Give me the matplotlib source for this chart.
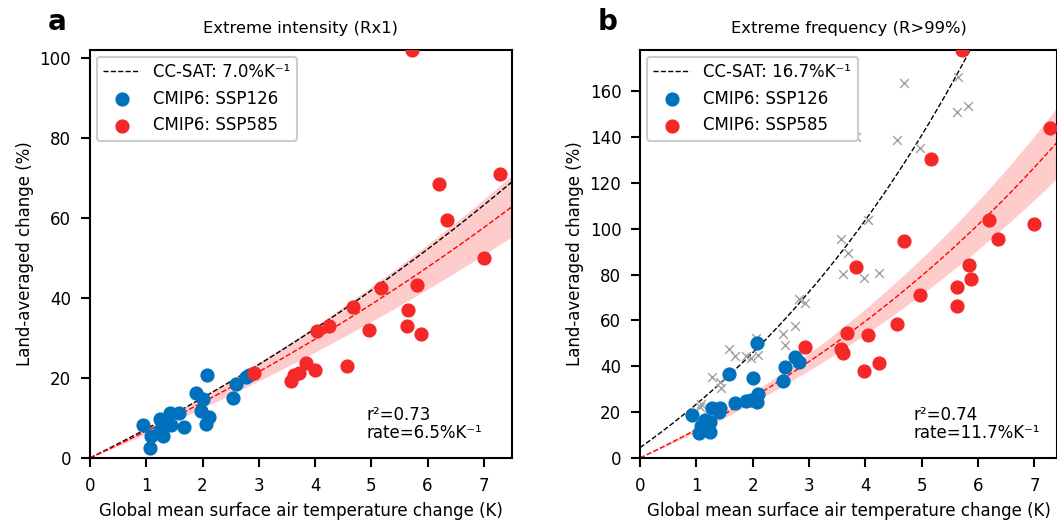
import numpy as np
import matplotlib.pyplot as plt
import matplotlib

matplotlib.rcParams.update({'font.size': 12, 'axes.linewidth': 1.5})

# ---- panel a : extreme intensity (Rx1) ----
a_t126 = [0.94, 1.06, 1.09, 1.25, 1.24, 1.29, 1.43, 1.44, 1.59, 1.68,
          1.89, 2.01, 1.97, 2.08, 2.11, 2.07, 2.54, 2.59, 2.77, 2.82]
a_y126 = [8.35, 2.5, 5.4, 9.7, 6.9, 5.4, 11.3, 8.2, 11.3, 7.75,
          16.3, 14.7, 11.7, 20.8, 10.3, 8.6, 15.0, 18.4, 20.3, 20.8]
a_t585 = [2.92, 3.58, 3.62, 3.71, 3.84, 4.00, 4.04, 4.24, 4.56, 4.68, 4.96,
          5.17, 5.63, 5.66, 5.82, 5.88, 5.73, 6.21, 6.35, 7.00, 7.28]
a_y585 = [21.3, 19.3, 20.7, 21.2, 23.8, 21.9, 31.8, 33.0, 23.0, 37.8, 32.1,
          42.5, 33.0, 36.9, 43.3, 30.9, 102.0, 68.6, 59.4, 50.0, 71.1]

# ---- panel b : extreme frequency (R>99%) ----
b_t126 = [0.93, 1.05, 1.08, 1.15, 1.24, 1.27, 1.24, 1.42, 1.41, 1.58, 1.68,
          1.88, 1.97, 2.00, 2.07, 2.09, 2.07, 2.53, 2.58, 2.75, 2.83]
b_y126 = [18.7, 10.8, 13.9, 16.6, 11.5, 21.7, 15.8, 21.7, 20.2, 36.5, 24.1,
          24.8, 25.3, 34.7, 50.3, 27.9, 24.5, 33.7, 39.5, 44.2, 42.0]
b_t585 = [2.93, 3.57, 3.61, 3.68, 3.83, 3.98, 4.04, 4.24, 4.56, 4.68, 4.96,
          5.16, 5.62, 5.63, 5.83, 5.87, 5.71, 6.20, 6.35, 7.00, 7.27]
b_y585 = [48.2, 47.4, 45.9, 54.6, 83.4, 37.9, 53.6, 41.3, 58.4, 94.7, 71.1,
          130.5, 74.7, 66.3, 84.1, 78.0, 177.9, 103.7, 95.6, 101.9, 144.0]
b_tx = [0.93, 1.06, 1.08, 1.23, 1.27, 1.42, 1.43, 1.58, 1.68, 1.88, 1.97,
        2.06, 2.09, 2.53, 2.58, 2.75, 2.83, 2.93, 3.57, 3.60, 3.69, 3.84,
        3.98, 4.04, 4.24, 4.56, 4.68, 4.97, 5.62, 5.65, 5.82]
b_yx = [18.7, 22.4, 23.5, 21.4, 35.4, 33.3, 30.4, 47.4, 44.6, 44.4, 43.5,
        52.2, 44.9, 54.3, 49.3, 57.5, 69.2, 67.4, 95.5, 80.1, 89.5, 140.1,
        78.6, 103.7, 80.8, 138.6, 163.8, 135.4, 151.0, 166.0, 153.6]

# fit / CC-SAT curves: 100*(A*exp(rate*T) - 1)
panels = [
    dict(title="Extreme intensity (Rx1)", tag="a", cc=0.070, cc_a=1.0,
         rate=0.065, lo=0.0587, hi=0.0713, r2="0.73", rate_lbl="6.5",
         cc_lbl="7.0", xmax=7.5, ymax=102, t126=a_t126, y126=a_y126,
         t585=a_t585, y585=a_y585, tx=None, yx=None),
    dict(title="Extreme frequency (R>99%)", tag="b", cc=0.167, cc_a=1.045,
         rate=0.117, lo=0.1078, hi=0.1254, r2="0.74", rate_lbl="11.7",
         cc_lbl="16.7", xmax=7.4, ymax=178, t126=b_t126, y126=b_y126,
         t585=b_t585, y585=b_y585, tx=b_tx, yx=b_yx),
]

blue = '#0071bc'
red = '#f52828'

fig = plt.figure(figsize=(10.57, 5.24), dpi=100)
lefts = [0.0851, 0.6055]
widths = [0.3993, 0.3945]

for p, l, w in zip(panels, lefts, widths):
    ax = fig.add_axes([l, 0.126, w, 0.7786])
    T = np.linspace(0, p["xmax"], 200)
    ax.fill_between(T, 100 * (np.exp(p["lo"] * T) - 1), 100 * (np.exp(p["hi"] * T) - 1),
                    color='red', alpha=0.2, linewidth=0, zorder=1)
    ax.plot(T, 100 * (p["cc_a"] * np.exp(p["cc"] * T) - 1), '--', color='black', lw=1,
            label=u"CC-SAT: %s%%K\u207b\u00b9" % p["cc_lbl"], zorder=2)
    ax.plot(T, 100 * (np.exp(p["rate"] * T) - 1), '--', color='red', lw=1, zorder=2)
    if p["tx"] is not None:
        ax.scatter(p["tx"], p["yx"], marker='x', s=40, color='#a0a0a0', linewidths=1, zorder=3)
    ax.scatter(p["t126"], p["y126"], s=85, color=blue, label="CMIP6: SSP126", zorder=4)
    ax.scatter(p["t585"], p["y585"], s=85, color=red, label="CMIP6: SSP585", zorder=4)

    ax.set_xlim(0, p["xmax"])
    ax.set_ylim(0, p["ymax"])
    ax.set_xticks(range(0, 8))
    ax.tick_params(width=1.5, length=6.5, pad=7)
    ax.set_xlabel("Global mean surface air temperature change (K)", labelpad=5)
    ax.set_ylabel("Land-averaged change (%)")
    ax.set_title(p["title"], fontsize=11.8, pad=12)
    ax.text(-0.078, 1.069, p["tag"], transform=ax.transAxes, fontsize=20,
            fontweight='bold', ha='center', va='center')
    ax.text(0.655, 0.04, u"r\u00b2=%s\nrate=%s%%K\u207b\u00b9" % (p["r2"], p["rate_lbl"]),
            transform=ax.transAxes, ha='left', va='bottom', linespacing=1.0)
    leg = ax.legend(loc='upper left', fontsize=12, handlelength=2.2,
                    borderaxespad=0.4, edgecolor='#cccccc', framealpha=1)
    leg.get_frame().set_linewidth(1.5)

fig.savefig("out.png", dpi=100)
